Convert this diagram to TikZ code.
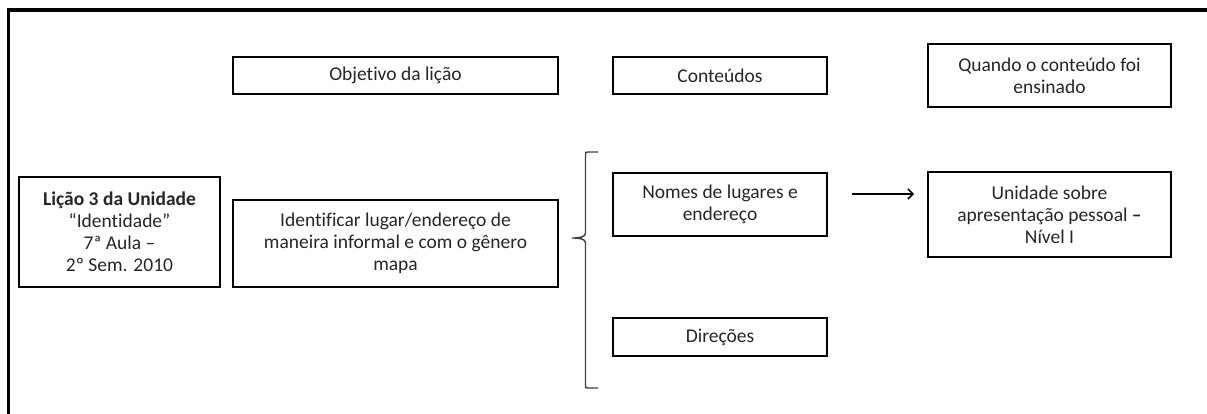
\documentclass[tikz,border=0pt]{standalone}
\usepackage{fontspec}
\setmainfont{Carlito}[Ligatures=NoCommon]
\usetikzlibrary{arrows.meta}
\begin{document}
\begin{tikzpicture}[x=1pt,y=-1pt,
  box/.style={draw=black,line width=1.6pt,align=center,inner sep=2pt,
    font=\fontsize{19.5}{22}\selectfont,text=black!85},
  frame/.style={line width=3.5pt},
  conn/.style={line width=1.5pt,-{Straight Barb[length=5pt,width=10pt]}},
  brace/.style={line width=1.4pt,black!75}]
\useasboundingbox (0,0) rectangle (1207,414);
\draw[frame] (1207,10) -- (8.5,10) -- (8.5,414);
\node[box,minimum width=201pt,minimum height=110pt] (licao) at (119.5,232)
  {\textbf{Lição 3 da Unidade}\\“Identidade”\\7ª Aula –\\2º Sem. 2010};
\node[box,minimum width=325pt,minimum height=37pt] (obj) at (395.5,75.5) {Objetivo da lição};
\node[box,minimum width=325pt,minimum height=87pt] (ident) at (395.5,243.5)
  {Identificar lugar/endereço de\\maneira informal e com o gênero\\mapa};
\node[box,minimum width=214pt,minimum height=37pt] (cont) at (720,75.5) {Conteúdos};
\node[box,minimum width=214pt,minimum height=63pt] (nomes) at (720,204.5) {Nomes de lugares e\\endereço};
\node[box,minimum width=214pt,minimum height=38pt] (dir) at (720,337) {Direções};
\node[box,minimum width=243pt,minimum height=63pt] (quando) at (1049.5,75.5) {Quando o conteúdo foi\\ensinado};
\node[box,minimum width=243pt,minimum height=85pt] (unid) at (1049.5,214.5)
  {Unidade sobre\\apresentação pessoal \textbf{–}\\Nível I};
\coordinate (btop) at (598,152);
\coordinate (bbot) at (598,388);
\coordinate (btip) at (572,238);
\draw[brace] (btop) -- (588,152) .. controls (585.5,152) .. (585.5,155) -- (585.5,233)
  .. controls (585.5,237) and (580,238) .. (btip)
  .. controls (580,238) and (585.5,239) .. (585.5,243) -- (585.5,385)
  .. controls (585.5,388) .. (588,388) -- (bbot);
\coordinate (astart) at (852,194);
\coordinate (aend) at (914,194);
\draw[conn] (astart) -- (aend);
\end{tikzpicture}
\end{document}
